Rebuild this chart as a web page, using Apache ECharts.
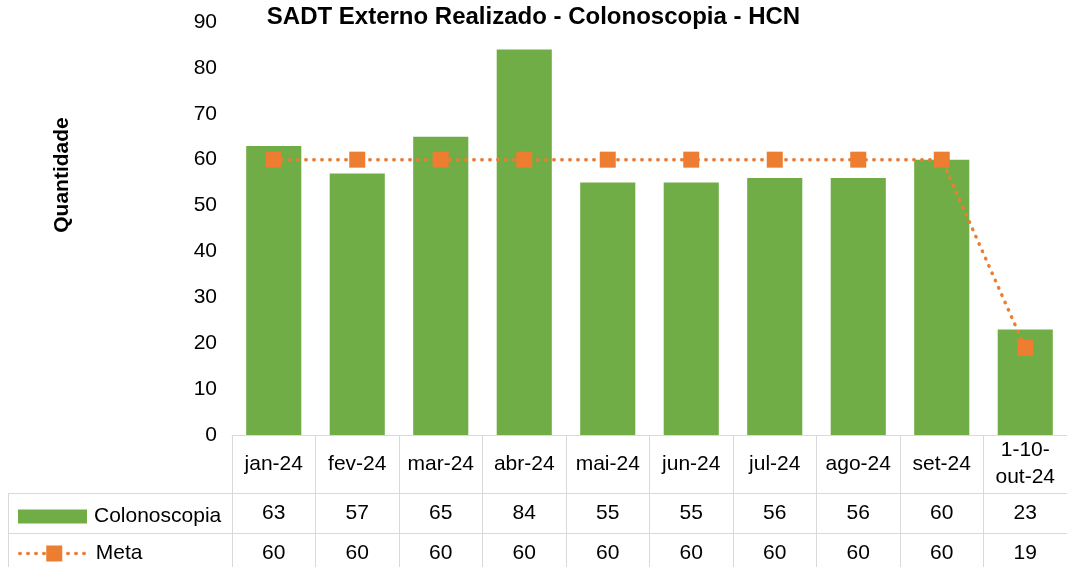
<!DOCTYPE html>
<html>
<head>
<meta charset="utf-8">
<script src="https://cdn.jsdelivr.net/npm/echarts@6/dist/echarts.min.js"></script>
<style>
  html, body { margin: 0; padding: 0; background: #fff; }
  #main { width: 1067px; height: 567px; }
</style>
</head>
<body>
<div id="main"></div>
<script>
var meses = ['jan-24', 'fev-24', 'mar-24', 'abr-24', 'mai-24', 'jun-24', 'jul-24', 'ago-24', 'set-24', '1-10-\nout-24'];
var colonoscopia = [63, 57, 65, 84, 55, 55, 56, 56, 60, 23];
var meta = [60, 60, 60, 60, 60, 60, 60, 60, 60, 19];
var yMin = 0, yMax = 90, yStep = 10;

var FONT = 'Liberation Sans, Arial, sans-serif';
var GRID_LEFT = 232, GRID_TOP = 22, GRID_H = 413, GRID_W = 845;
var HEAD_H = 58, ROW_H = 40; // alturas das linhas da tabela
var BORDER = '#d9d9d9';
var LARANJA = '#ED7D31';

var chart = echarts.init(document.getElementById('main'));

// eixos extras servem de linhas da tabela de dados
function tableAxis(data, offset, tickLen, margin) {
  return {
    type: 'category',
    data: data,
    position: 'bottom',
    offset: offset,
    axisLine: { show: true, lineStyle: { color: BORDER, width: 1 } },
    axisTick: { show: true, length: tickLen, interval: 0, lineStyle: { color: BORDER, width: 1 } },
    axisLabel: {
      interval: 0, margin: margin, verticalAlign: 'middle',
      fontSize: 21, lineHeight: 27, color: '#000', fontFamily: FONT
    },
    splitLine: { show: false }
  };
}

// uma legenda por linha da tabela, centrada na linha
function rowLegend(name, rowTop, iconH, icon) {
  var item = { name: name };
  if (icon) item.icon = icon;
  return {
    data: [item],
    left: 18,
    top: rowTop + ROW_H / 2 - iconH / 2,
    padding: 0,
    itemWidth: 69,
    itemHeight: iconH,
    itemGap: 0,
    lineStyle: { width: 3.5, type: [0.5, 7.5], cap: 'round' },
    textStyle: { fontSize: 21, color: '#000', fontFamily: FONT, padding: [0, 0, 0, 2] }
  };
}

var tableTop = GRID_TOP + GRID_H;
var row2 = tableTop + HEAD_H, row3 = row2 + ROW_H;

var option = {
  animation: false,
  title: {
    text: 'SADT Externo Realizado - Colonoscopia - HCN',
    left: 'center',
    top: 0,
    textStyle: { fontSize: 24, fontWeight: 'bold', color: '#000', fontFamily: FONT }
  },
  legend: [
    rowLegend('Colonoscopia', row2, 14, 'rect'),
    rowLegend('Meta', row3, 20)
  ],
  grid: { left: GRID_LEFT, top: GRID_TOP, width: GRID_W, height: GRID_H, containLabel: false },
  xAxis: [
    tableAxis(meses, 0, HEAD_H, HEAD_H / 2),
    tableAxis(colonoscopia.map(String), HEAD_H, ROW_H, ROW_H / 2),
    tableAxis(meta.map(String), HEAD_H + ROW_H, ROW_H, ROW_H / 2)
  ],
  yAxis: {
    type: 'value',
    min: yMin, max: yMax, interval: yStep,
    axisLine: { show: false },
    axisTick: { show: false },
    splitLine: { show: false },
    axisLabel: { fontSize: 21, color: '#000', margin: 15, fontFamily: FONT }
  },
  series: [
    {
      name: 'Colonoscopia',
      type: 'bar',
      xAxisIndex: 0,
      data: colonoscopia,
      barCategoryGap: '34%',
      itemStyle: { color: '#70AD47' }
    },
    {
      name: 'Meta',
      type: 'line',
      xAxisIndex: 0,
      data: meta,
      symbol: 'rect',
      symbolSize: 16,
      itemStyle: { color: LARANJA },
      lineStyle: { color: LARANJA, width: 3.5, type: [0.5, 7.5], cap: 'round' },
      z: 3
    }
  ],
  graphic: [
    { type: 'line', shape: { x1: 8, y1: row2 + 0.5, x2: GRID_LEFT, y2: row2 + 0.5 }, style: { stroke: BORDER, lineWidth: 1 } },
    { type: 'line', shape: { x1: 8, y1: row3 + 0.5, x2: GRID_LEFT, y2: row3 + 0.5 }, style: { stroke: BORDER, lineWidth: 1 } },
    { type: 'line', shape: { x1: 8.5, y1: row2, x2: 8.5, y2: 567 }, style: { stroke: BORDER, lineWidth: 1 } },
    {
      type: 'text', x: 62, y: 175, rotation: Math.PI / 2,
      style: {
        text: 'Quantidade', fontSize: 21, fontWeight: 'bold', fontFamily: FONT,
        fill: '#000', align: 'center', verticalAlign: 'middle'
      }
    }
  ]
};

chart.setOption(option);
</script>
</body>
</html>
